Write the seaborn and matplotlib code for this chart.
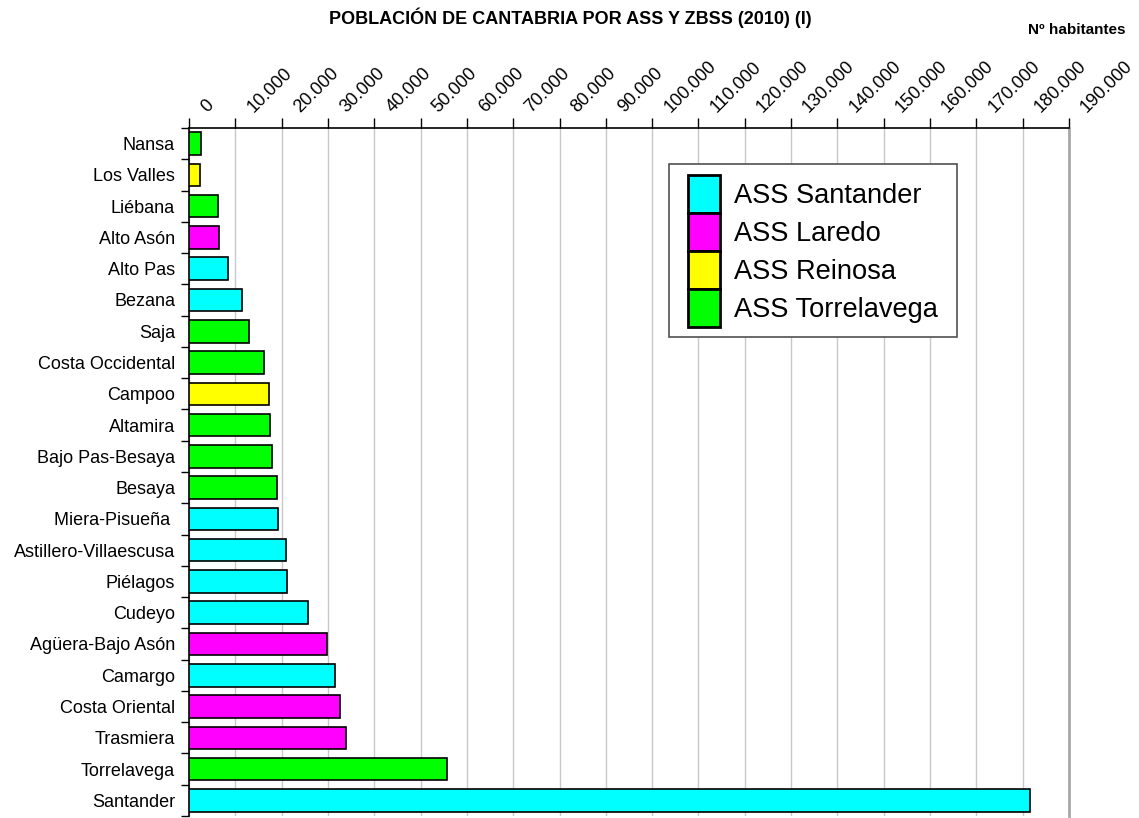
import numpy as np
import pandas as pd
import matplotlib
matplotlib.use('Agg')
import matplotlib.pyplot as plt
import matplotlib.transforms as mtransforms
from matplotlib.patches import Rectangle
import seaborn as sns

# Datos: zonas básicas de salud, de arriba a abajo
zonas = ['Nansa', 'Los Valles', 'Liébana', 'Alto Asón', 'Alto Pas', 'Bezana', 'Saja',
         'Costa Occidental', 'Campoo', 'Altamira', 'Bajo Pas-Besaya', 'Besaya',
         'Miera-Pisueña ', 'Astillero-Villaescusa', 'Piélagos', 'Cudeyo',
         'Agüera-Bajo Asón', 'Camargo', 'Costa Oriental', 'Trasmiera', 'Torrelavega',
         'Santander']
habitantes = [2500, 2450, 6300, 6500, 8400, 11450, 13000, 16300, 17300, 17500, 18000,
              19000, 19300, 20950, 21250, 25600, 29800, 31600, 32600, 33900, 55700, 181600]
area = ['ASS Torrelavega', 'ASS Reinosa', 'ASS Torrelavega', 'ASS Laredo', 'ASS Santander',
        'ASS Santander', 'ASS Torrelavega', 'ASS Torrelavega', 'ASS Reinosa', 'ASS Torrelavega',
        'ASS Torrelavega', 'ASS Torrelavega', 'ASS Santander', 'ASS Santander', 'ASS Santander',
        'ASS Santander', 'ASS Laredo', 'ASS Santander', 'ASS Laredo', 'ASS Laredo',
        'ASS Torrelavega', 'ASS Santander']
areas = ['ASS Santander', 'ASS Laredo', 'ASS Reinosa', 'ASS Torrelavega']
colores = ['#00FFFF', '#FF00FF', '#FFFF00', '#00FF00']
xticks = list(range(0, 190001, 10000))

df = pd.DataFrame({'zona': zonas, 'hab': habitantes, 'ass': area})

sns.set_style('white')
plt.rcParams['font.family'] = ['Liberation Sans', 'DejaVu Sans']
plt.rcParams['text.color'] = 'black'
plt.rcParams['xtick.color'] = 'black'
plt.rcParams['ytick.color'] = 'black'

fig = plt.figure(figsize=(11.39, 8.18), dpi=100)
ax = fig.add_axes([189 / 1139, 2 / 818, 880 / 1139, 688 / 818])

sns.barplot(data=df, x='hab', y='zona', hue='ass', hue_order=areas,
            palette=dict(zip(areas, colores)), saturation=1, dodge=False, width=0.72,
            edgecolor='black', linewidth=1.2, orient='h', ax=ax, zorder=3)

ax.set_xlim(0, 190000)
ax.set_ylim(len(zonas) - 0.5, -0.5)
ax.set_xticks(xticks)
ax.set_xticklabels([f'{v:,}'.replace(',', '.') for v in xticks])
ax.xaxis.tick_top()
ax.tick_params(axis='x', top=True, bottom=False, length=7, width=1,
               labelsize=13, pad=2)
desplaza = mtransforms.ScaledTranslation(15 / 72, 0, fig.dpi_scale_trans)
for lab in ax.get_xticklabels():
    lab.set_rotation(45)
    lab.set_ha('left')
    lab.set_va('bottom')
    lab.set_rotation_mode('anchor')
    lab.set_transform(lab.get_transform() + desplaza)

ax.set_yticks(np.arange(len(zonas) + 1) - 0.5, minor=True)
ax.tick_params(axis='y', which='major', length=0, labelsize=13, pad=10)
ax.tick_params(axis='y', which='minor', left=True, length=6, width=1)

ax.grid(axis='x', color='#c8c8c8', linewidth=1, zorder=0)
ax.set_axisbelow(True)
ax.set_xlabel('')
ax.set_ylabel('')

ax.spines['top'].set_color('black')
ax.spines['left'].set_color('black')
ax.spines['top'].set_linewidth(1.2)
ax.spines['left'].set_linewidth(1.2)
ax.spines['right'].set_color('#a8a8a8')
ax.spines['right'].set_linewidth(2)
ax.spines['bottom'].set_visible(False)

# leyenda sin marco propio; el marco se dibuja aparte por el relleno lateral
ax.legend(loc='upper left', bbox_to_anchor=(0.567, 0.9317), fontsize=19.6,
          handlelength=1.18, handleheight=1.77, labelspacing=0, handletextpad=0.5,
          borderpad=0, borderaxespad=0, frameon=False)
for h in ax.get_legend().legend_handles:
    h.set_edgecolor('black')
    h.set_linewidth(2)
ax.add_patch(Rectangle((480 / 880, 479 / 688), 288 / 880, 173 / 688,
                       transform=ax.transAxes, facecolor='white', edgecolor='#505050',
                       linewidth=1.2, zorder=4))
ax.get_legend().set_zorder(5)

fig.text(570 / 1139, 1 - 18 / 818, 'POBLACIÓN DE CANTABRIA POR ASS Y ZBSS (2010) (I)',
         ha='center', va='center', fontsize=13, fontweight='bold')
fig.text(1125 / 1139, 1 - 30 / 818, 'Nº habitantes', ha='right', va='center',
         fontsize=11, fontweight='bold')

fig.savefig('out.png', dpi=100)
